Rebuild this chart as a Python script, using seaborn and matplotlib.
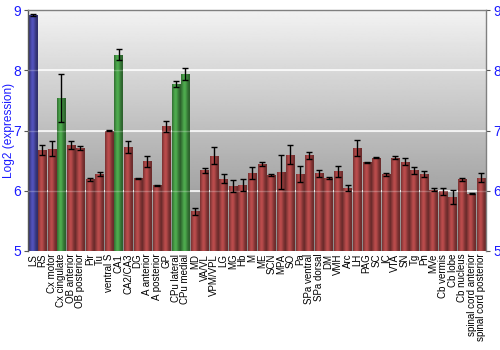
import numpy as np
import pandas as pd
import matplotlib
matplotlib.use("Agg")
import matplotlib.pyplot as plt
import seaborn as sns
from matplotlib.colors import to_rgb

regions = ["LS", "RS", "Cx motor", "Cx cingulate", "OB anterior", "OB posterior", "Pir", "Tu",
           "ventral S", "CA1", "CA2/CA3", "DG", "A anterior", "A posterior", "GP", "CPu lateral",
           "CPu medial", "MD", "VA/VL", "VPM/VPL", "LG", "MG", "Hb", "M", "ME", "SCN", "MPA", "SO",
           "Pa", "SPa ventral", "SPa dorsal", "DM", "VMH", "Arc", "LH", "PAG", "SC", "IC", "VTA",
           "SN", "Tg", "Pn", "MVe", "Cb vermis", "Cb lobe", "Cb nucleus", "spinal cord anterior",
           "spinal cord posterior"]
values = [8.92, 6.68, 6.70, 7.54, 6.76, 6.71, 6.19, 6.28,
          7.00, 8.26, 6.72, 6.21, 6.49, 6.09, 7.07, 7.78,
          7.94, 5.66, 6.34, 6.58, 6.20, 6.08, 6.09, 6.30, 6.44, 6.26, 6.31, 6.60,
          6.28, 6.59, 6.29, 6.21, 6.32, 6.04, 6.71, 6.47, 6.55, 6.27, 6.55,
          6.48, 6.34, 6.28, 6.02, 5.99, 5.90, 6.19, 5.95,
          6.22]
errors = [0.02, 0.08, 0.12, 0.40, 0.07, 0.03, 0.03, 0.03,
          0.01, 0.09, 0.10, 0.01, 0.09, 0.01, 0.09, 0.05,
          0.10, 0.06, 0.04, 0.14, 0.07, 0.10, 0.10, 0.10, 0.03, 0.02, 0.28, 0.16,
          0.13, 0.06, 0.06, 0.02, 0.09, 0.05, 0.14, 0.01, 0.01, 0.03, 0.03,
          0.06, 0.06, 0.05, 0.03, 0.06, 0.12, 0.03, 0.01,
          0.08]
groups = ["reference"] + ["other"] * 2 + ["high"] + ["other"] * 5 + ["high"] + ["other"] * 5 + \
         ["high", "high"] + ["other"] * 31

group_colors = {"reference": "#3a3ab8", "other": "#b83434", "high": "#38a838"}

plt.rcParams["font.family"] = ["Liberation Sans", "DejaVu Sans"]

df = pd.DataFrame({"region": regions, "value": values, "err": errors, "group": groups})

fig = plt.figure(figsize=(5, 3.5), dpi=100)
ax = fig.add_axes([0.056, 0.283, 0.916, 0.688])

sns.barplot(data=df, x="region", y="value", hue="group", palette=group_colors,
            dodge=False, width=0.88, legend=False, ax=ax, zorder=2)

n = len(regions)
ax.set_xlim(-0.5, n - 0.5)
ax.set_ylim(5, 9)

# background gradient
grad = np.linspace(0.54, 0.95, 256)[:, None]
ax.imshow(grad, extent=[-0.5, n - 0.5, 5, 9], origin="lower", aspect="auto",
          cmap="gray", vmin=0, vmax=1, zorder=0)

# cylinder shading on bars
prof = np.linspace(0, 1, 64)
shade = 0.62 + 0.5 * np.exp(-((prof - 0.4) / 0.32) ** 2)
for patch in list(ax.patches):
    base = np.array(to_rgb(patch.get_facecolor()))
    img = np.clip(base[None, None, :] * shade[None, :, None], 0, 1)
    x0 = patch.get_x()
    w = patch.get_width()
    top = patch.get_height()
    im = ax.imshow(img, extent=[x0, x0 + w, 5, top], origin="lower", aspect="auto",
                   zorder=2.5, interpolation="bilinear")
    im.set_clip_path(patch)

ax.set_xlim(-0.5, n - 0.5)
ax.set_ylim(5, 9)

# grid lines
for gy in [6, 7, 8]:
    ax.axhline(gy, color="white", lw=1.3, alpha=0.85, zorder=1)
    ax.axhline(gy, color="white", lw=1.0, alpha=0.25, zorder=3)

ax.errorbar(np.arange(n), df["value"], yerr=df["err"], fmt="none", ecolor="black",
            elinewidth=1.0, capsize=2.0, capthick=1.0, zorder=4)

ax.set_yticks([5, 6, 7, 8, 9])
ax.yaxis.set_ticks_position("both")
ax.tick_params(axis="y", labelleft=True, labelright=True, labelcolor="#1a1aff",
               color="#555555", length=3, pad=2, labelsize=10)
ax.tick_params(axis="x", length=0, pad=2)
ax.set_xticks(np.arange(n))
ax.set_xticklabels(regions, rotation=90, fontsize=7.0, color="black")

ax.set_xlabel("")
ax.set_ylabel("Log2 (expression)", color="#1a1aff", fontsize=8.6)
ax.yaxis.set_label_coords(-0.029, 0.5)

ax.spines["left"].set_color("#555555")
for s in ["top", "right"]:
    ax.spines[s].set_color("#808080")
ax.spines["bottom"].set_visible(False)
for s in ax.spines.values():
    s.set_linewidth(1.0)

fig.savefig("out.png", dpi=100)
